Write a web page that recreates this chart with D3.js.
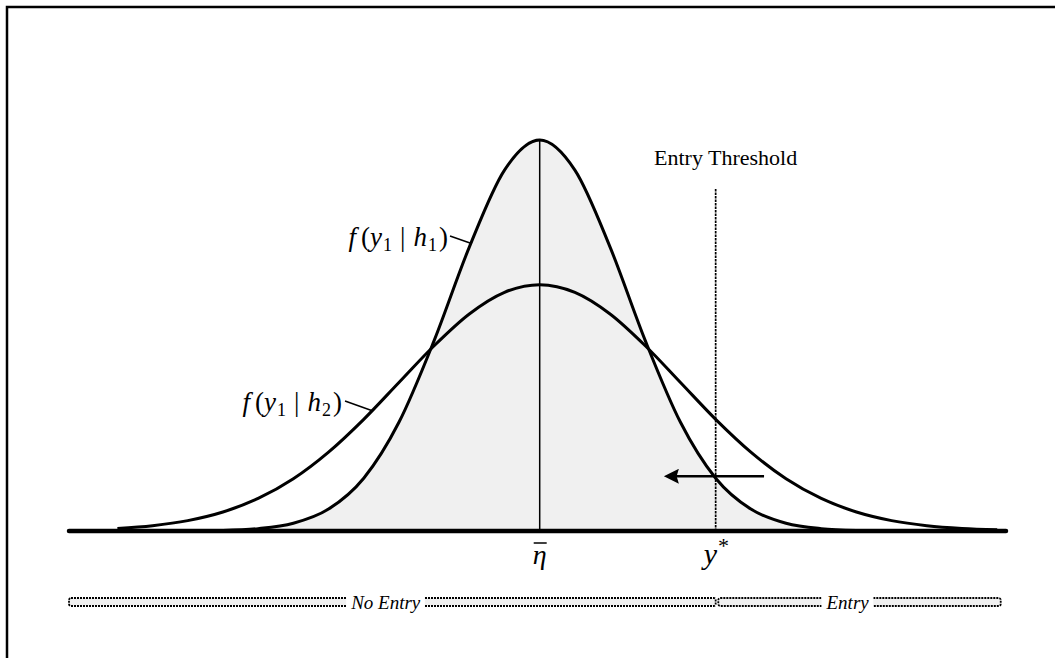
<!DOCTYPE html>
<html>
<head>
<meta charset="utf-8">
<script src="https://cdn.jsdelivr.net/npm/d3@7"></script>
<style>
  body { margin: 0; background: #fff; }
  svg { display: block; }
</style>
</head>
<body>
<svg id="chart" width="1055" height="658"></svg>
<script>
// narrow density f(y1 | h1), relative height
var narrowX = [-3.6, -3.2, -2.8, -2.4, -2.0, -1.6, -1.2, -0.8, -0.4, 0, 0.4, 0.8, 1.2, 1.6, 2.0, 2.4, 2.8, 3.2, 3.6];
var narrowY = [0.0015, 0.006, 0.0198, 0.056, 0.135, 0.278, 0.487, 0.726, 0.923, 1, 0.923, 0.726, 0.487, 0.278, 0.135, 0.056, 0.0198, 0.006, 0.0015];

// wide density f(y1 | h2)
var wideX = [-4.8, -4.4, -4.0, -3.6, -3.2, -2.8, -2.4, -2.0, -1.6, -1.2, -0.8, -0.4, 0, 0.4, 0.8, 1.2, 1.6, 2.0, 2.4, 2.8, 3.2, 3.6, 4.0, 4.4, 4.8, 5.2];
var wideY = [0.0066, 0.0137, 0.0266, 0.0486, 0.0832, 0.1336, 0.2017, 0.2856, 0.3798, 0.4738, 0.5551, 0.6104, 0.63, 0.6104, 0.5551, 0.4738, 0.3798, 0.2856, 0.2017, 0.1336, 0.0832, 0.0486, 0.0266, 0.0137, 0.0066, 0.003];

// markers on the axis
var etaBar = 0;
var threshold = 2.0;
var axisRange = [-5.35, 5.3];
var arrowFrom = [2.55, 0.14];
var arrowTo = [1.4, 0.14];
var regions = [
  {name: "No Entry", from: -5.35, to: 2.0, label: -1.75},
  {name: "Entry", from: 2.03, to: 5.24, label: 3.5}
];

var svg = d3.select("#chart");

//scales
var x = d3.scaleLinear().domain(axisRange).range([69, 1006]);
var y = d3.scaleLinear().domain([0, 1]).range([531, 140]);

var narrow = narrowX.map(function(d, i) { return [d, narrowY[i]]; });
var wide = wideX.map(function(d, i) { return [d, wideY[i]]; });

var line = d3.line()
  .x(function(d) { return x(d[0]); })
  .y(function(d) { return y(d[1]); })
  .curve(d3.curveMonotoneX);

var area = d3.area()
  .x(function(d) { return x(d[0]); })
  .y0(y(0))
  .y1(function(d) { return y(d[1]); })
  .curve(d3.curveMonotoneX);

//frame
svg.append("path")
  .attr("d", "M7,700 L7,7 L1100,7")
  .attr("fill", "none")
  .attr("stroke", "#000")
  .attr("stroke-width", 2.5);

//shaded area under the narrow curve
svg.append("path")
  .datum(narrow)
  .attr("d", area)
  .attr("fill", "#f0f0f0");

//mean line
svg.append("line")
  .attr("x1", x(etaBar)).attr("x2", x(etaBar))
  .attr("y1", y(0)).attr("y2", y(1))
  .attr("stroke", "#000")
  .attr("stroke-width", 1.5);

//threshold line
svg.append("line")
  .attr("x1", x(threshold)).attr("x2", x(threshold))
  .attr("y1", y(0)).attr("y2", y(0.877))
  .attr("stroke", "#000")
  .attr("stroke-width", 1.7)
  .attr("stroke-dasharray", "2.5,1");

//curves
svg.append("path")
  .datum(wide)
  .attr("d", line)
  .attr("fill", "none")
  .attr("stroke", "#000")
  .attr("stroke-width", 3);

svg.append("path")
  .datum(narrow)
  .attr("d", line)
  .attr("fill", "none")
  .attr("stroke", "#000")
  .attr("stroke-width", 3);

//baseline
svg.append("line")
  .attr("x1", x(axisRange[0])).attr("x2", x(axisRange[1]))
  .attr("y1", y(0)).attr("y2", y(0))
  .attr("stroke", "#000")
  .attr("stroke-width", 4.5)
  .attr("stroke-linecap", "round");

//arrow
svg.append("defs").append("marker")
  .attr("id", "head")
  .attr("viewBox", "0 0 10 10")
  .attr("refX", 2).attr("refY", 5)
  .attr("markerWidth", 7).attr("markerHeight", 6)
  .attr("markerUnits", "strokeWidth")
  .attr("orient", "auto")
  .append("path")
  .attr("d", "M0,0 L10,5 L0,10 L1.5,5 Z")
  .attr("fill", "#000");

svg.append("line")
  .attr("x1", x(arrowFrom[0])).attr("y1", y(arrowFrom[1]))
  .attr("x2", x(arrowTo[0]) + 13).attr("y2", y(arrowTo[1]))
  .attr("stroke", "#000")
  .attr("stroke-width", 2.5)
  .attr("marker-end", "url(#head)");

var serif = "'Liberation Serif', 'Times New Roman', serif";

svg.append("text")
  .attr("x", 654).attr("y", 165)
  .style("font-family", serif)
  .style("font-size", "22px")
  .text("Entry Threshold");

//curve labels with leader lines
function mathLabel(xp, yp, sub) {
  var t = svg.append("text")
    .attr("x", xp).attr("y", yp)
    .attr("text-anchor", "end")
    .style("font-family", serif)
    .style("font-size", "27px");
  t.append("tspan").style("font-style", "italic").text("f");
  t.append("tspan").attr("dx", 5).text("(");
  t.append("tspan").style("font-style", "italic").text("y");
  t.append("tspan").attr("dy", 5).attr("dx", 1).style("font-size", "18px").text("1");
  t.append("tspan").attr("dy", -5).attr("dx", 8).text("|");
  t.append("tspan").attr("dx", 8).style("font-style", "italic").text("h");
  t.append("tspan").attr("dy", 5).attr("dx", 1).style("font-size", "18px").text(sub);
  t.append("tspan").attr("dy", -5).attr("dx", 2).text(")");
}
mathLabel(448, 246, "1");
mathLabel(342, 411, "2");

svg.append("line")
  .attr("x1", 450).attr("y1", 236).attr("x2", 470).attr("y2", 243)
  .attr("stroke", "#000").attr("stroke-width", 1.5);
svg.append("line")
  .attr("x1", 345).attr("y1", 401).attr("x2", 373).attr("y2", 411)
  .attr("stroke", "#000").attr("stroke-width", 1.5);

//axis labels
svg.append("text")
  .attr("x", x(etaBar)).attr("y", 564)
  .attr("text-anchor", "middle")
  .style("font-family", serif)
  .style("font-size", "28px")
  .style("font-style", "italic")
  .text("\u03B7");
svg.append("line")
  .attr("x1", x(etaBar) - 6).attr("x2", x(etaBar) + 7)
  .attr("y1", 543).attr("y2", 543)
  .attr("stroke", "#000").attr("stroke-width", 1.5);

var ys = svg.append("text")
  .attr("x", x(threshold) - 12).attr("y", 564)
  .style("font-family", serif)
  .style("font-size", "30px");
ys.append("tspan").style("font-style", "italic").text("y");
ys.append("tspan").attr("dy", -11).attr("dx", 1).style("font-size", "22px").text("*");

//region brackets
svg.selectAll(".region")
  .data(regions)
  .enter().append("rect")
  .attr("class", "region")
  .attr("x", function(d) { return x(d.from); })
  .attr("width", function(d) { return x(d.to) - x(d.from); })
  .attr("y", 598).attr("height", 8)
  .attr("rx", 2)
  .attr("fill", "#f0f0f0")
  .attr("stroke", "#000")
  .attr("stroke-width", 1.8)
  .attr("stroke-dasharray", "2,1");

var labels = svg.selectAll(".rlabel")
  .data(regions)
  .enter().append("g")
  .attr("class", "rlabel");

labels.append("text")
  .attr("x", function(d) { return x(d.label); })
  .attr("y", 609)
  .attr("text-anchor", "middle")
  .style("font-family", serif)
  .style("font-size", "19px")
  .style("font-style", "italic")
  .text(function(d) { return d.name; })
  .each(function() {
    var b = this.getBBox();
    d3.select(this.parentNode).insert("rect", "text")
      .attr("x", b.x - 4).attr("y", b.y)
      .attr("width", b.width + 8).attr("height", b.height)
      .attr("fill", "#fff");
  });
</script>
</body>
</html>
